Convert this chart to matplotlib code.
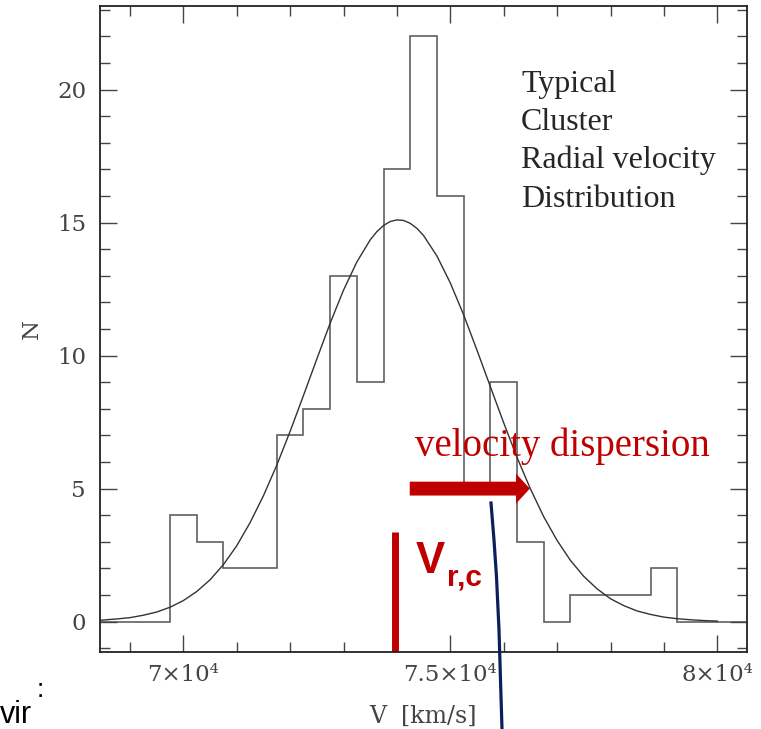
import matplotlib
matplotlib.use('Agg')
import matplotlib.pyplot as plt
from matplotlib.lines import Line2D
from matplotlib.ticker import MultipleLocator

# Histogram of cluster galaxy radial velocities (bins of 500 km/s)
bin_edges = [68250, 68750, 69250, 69750, 70250, 70750, 71250, 71750, 72250,
             72750, 73250, 73750, 74250, 74750, 75250, 75750, 76250, 76750,
             77250, 77750, 78250, 78750, 79250, 79750, 80250, 80750]
counts = [0, 0, 0, 4, 3, 2, 2, 7, 8, 13, 9, 17, 22, 16, 5, 9, 3, 0,
          1, 1, 1, 2, 0, 0, 0]

# Gaussian fit curve
fit_v = [68440, 68500, 68750, 69000, 69250, 69500, 69750, 70000, 70250,
         70500, 70750, 71000, 71250, 71500, 71750, 72000, 72250, 72500,
         72750, 73000, 73250, 73500, 73625, 73750, 73875, 74000, 74125,
         74250, 74375, 74500, 74750,
         75000, 75250, 75500, 75750, 76000, 76250, 76500, 76750, 77000,
         77250, 77500, 77750, 78000, 78250, 78500, 78750, 79000, 79250,
         79500, 79750, 80000]
fit_n = [0.05, 0.06, 0.10, 0.15, 0.24, 0.36, 0.54, 0.79, 1.13,
         1.57, 2.14, 2.85, 3.72, 4.73, 5.88, 7.15, 8.50, 9.87,
         11.22, 12.46, 13.52, 14.35, 14.66, 14.89, 15.04, 15.10, 15.08,
         14.97, 14.78, 14.51, 13.74,
         12.73, 11.53, 10.20, 8.83, 7.47, 6.17, 4.99, 3.94, 3.05,
         2.30, 1.70, 1.23, 0.86, 0.60, 0.40, 0.27, 0.17, 0.11,
         0.07, 0.04, 0.02]

xtick_vals = [70000, 75000, 80000]
xtick_labels = ['7×10⁴', '7.5×10⁴', '8×10⁴']

v_rc = 73970          # cluster mean velocity marker
v_rc_top = 3.36
arrow_start = 74240
arrow_end = 76490
arrow_level = 5.0

red = '#c00000'
W, H = 761, 729


def fx(x):
    return x / W


def fy(y):
    return 1 - y / H


plt.rcParams['font.family'] = 'DejaVu Serif'

fig = plt.figure(figsize=(W / 100, H / 100), dpi=100)
ax = fig.add_axes([fx(100), fy(651.7), (746.7 - 100) / W, (651.7 - 6) / H])

# histogram outline and fitted gaussian
ax.stairs(counts, bin_edges, baseline=None, color='#606060', lw=1.2)
ax.plot(fit_v, fit_n, color='#333333', lw=1.0)

ax.set_xlim(68440, 80550)
ax.set_ylim(-1.13, 23.14)

ax.set_xticks(xtick_vals, xtick_labels)
ax.xaxis.set_minor_locator(MultipleLocator(1000))
ax.yaxis.set_major_locator(MultipleLocator(5))
ax.yaxis.set_minor_locator(MultipleLocator(1))

ax.tick_params(which='both', direction='in', top=True, right=True,
               color='#444444', width=1.0)
ax.tick_params(which='major', length=12.5, labelsize=16.5,
               labelcolor='#444444')
ax.tick_params(which='minor', length=7)
ax.tick_params(axis='x', pad=9)
ax.tick_params(axis='y', pad=10)
for sp in ax.spines.values():
    sp.set_color('#222222')
    sp.set_linewidth(1.3)

ax.set_xlabel('V  [km/s]', fontsize=17, color='#444444')
ax.set_ylabel('N', fontsize=16.5, color='#444444')
ax.xaxis.set_label_coords(0.5, -0.083)
ax.yaxis.set_label_coords(-0.089, 0.5)

# red mean-velocity bar and dispersion arrow
ax.plot([v_rc, v_rc], [-1.13, v_rc_top], color=red, lw=5,
        solid_capstyle='butt')
ax.annotate('', xy=(arrow_end, arrow_level), xytext=(arrow_start, arrow_level),
            arrowprops=dict(arrowstyle='simple,head_length=1.0,head_width=2.16,'
                                       'tail_width=1.0',
                            mutation_scale=10, fc=red, ec='none', lw=0,
                            shrinkA=0, shrinkB=0))

# slide annotations
fig.text(fx(415), fy(456), 'velocity dispersion', color=red,
         family='Liberation Serif', fontsize=28, va='baseline')
for txt, yb in zip(['Typical', 'Cluster', 'Radial velocity', 'Distribution'],
                   [91.7, 130, 168.3, 206.7]):
    fig.text(fx(521), fy(yb), txt, color='#262626',
             family='Liberation Serif', fontsize=23, va='baseline')

fig.text(fx(416), fy(573), 'V', color=red, family='Liberation Sans',
         fontweight='bold', fontsize=31.5, va='baseline')
fig.text(fx(446.5), fy(585), 'r,c', color=red, family='Liberation Sans',
         fontweight='bold', fontsize=21.5, va='baseline')

fig.text(fx(0), fy(723), 'vir', color='black', family='Liberation Sans',
         fontsize=22, va='baseline')
fig.text(fx(37), fy(697), ':', color='black', family='Liberation Sans',
         fontsize=19, va='baseline')

# navy line crossing the bottom of the chart
line_x = [491, 494, 496.5, 499, 500.5, 502]
line_y = [503, 540, 577, 630, 680, 729]
fig.add_artist(Line2D([fx(v) for v in line_x], [fy(v) for v in line_y],
                      transform=fig.transFigure, color='#0a1f5c', lw=2.3))

fig.savefig('out.png', dpi=100)
